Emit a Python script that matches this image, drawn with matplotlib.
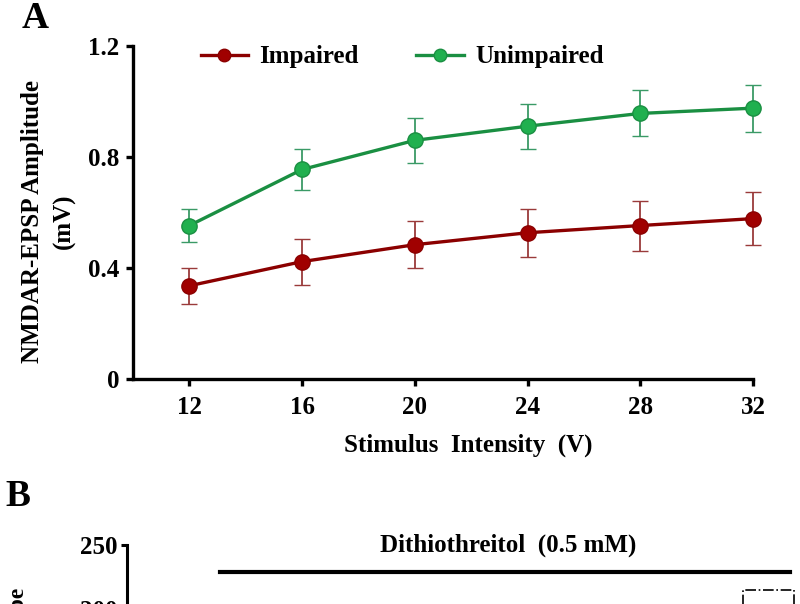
import matplotlib.pyplot as plt
from matplotlib.patches import Rectangle
import numpy as np

plt.rcParams['font.family'] = ['Liberation Serif', 'DejaVu Serif']
plt.rcParams['font.weight'] = 'bold'

# panel A data
intensity = [12, 16, 20, 24, 28, 32]
impaired = [0.336, 0.423, 0.484, 0.527, 0.553, 0.578]
impaired_err = [0.065, 0.083, 0.085, 0.087, 0.09, 0.095]
unimpaired = [0.553, 0.755, 0.860, 0.911, 0.957, 0.976]
unimpaired_err = [0.06, 0.075, 0.08, 0.081, 0.083, 0.085]
y_ticks = [0, 0.4, 0.8, 1.2]
y_ticklabels = ['0', '0.4', '0.8', '1.2']

# panel B (only the top edge is visible)
dtt_start, dtt_end = 12.5, 89.3
b_ticks = [0, 50, 100, 150, 200, 250]

red_line = '#8b0000'
red_face = '#a00000'
red_err = '#9a3a3a'
green_line = '#1a8f42'
green_face = '#20b04f'
green_err = '#3a9a66'

fig = plt.figure(figsize=(8, 6.04), dpi=100)

# ---------- panel A ----------
ax = fig.add_axes([133/800, 1-379/604, 620/800, 333/604])

ax.errorbar(intensity, impaired, yerr=impaired_err, color=red_line, lw=2.4,
            marker='o', ms=11, mfc=red_face, mec=red_line, mew=1,
            ecolor=red_err, elinewidth=1.3, capsize=6, capthick=1.3,
            clip_on=False, zorder=3)
ax.errorbar(intensity, unimpaired, yerr=unimpaired_err, color=green_line, lw=2.4,
            marker='o', ms=11, mfc=green_face, mec=green_line, mew=1,
            ecolor=green_err, elinewidth=1.3, capsize=6, capthick=1.3,
            clip_on=False, zorder=3)

ax.set_xlim(10, 32)
ax.set_ylim(0, 1.2)
ax.set_xticks(intensity)
ax.set_yticks(y_ticks)
ax.set_yticklabels(y_ticklabels)
for s in ['top', 'right']:
    ax.spines[s].set_visible(False)
for s in ['left', 'bottom']:
    ax.spines[s].set_linewidth(2.4)
ax.tick_params(width=2.4, length=5, labelsize=18)
ax.tick_params(axis='x', pad=7)
ax.tick_params(axis='y', pad=5)

ax.set_ylabel('NMDAR-EPSP Amplitude\n(mV)', fontsize=18, fontweight='bold',
              linespacing=1.45)
ax.yaxis.set_label_coords(-0.092, 0.474)
ax.set_xlabel('Stimulus  Intensity  (V)', fontsize=18, fontweight='bold')
ax.xaxis.set_label_coords(0.54, -0.165)

# legend without error bars
h1, = ax.plot([], [], color=red_line, lw=2.4, marker='o', ms=9,
              mfc=red_face, mec=red_line)
h2, = ax.plot([], [], color=green_line, lw=2.4, marker='o', ms=9,
              mfc=green_face, mec=green_line)
fig.legend([h1, h2], ['Impaired', 'Unimpaired'], ncol=2, frameon=False,
           loc='center left', bbox_to_anchor=(178/800, 1-57/604),
           prop={'size': 18, 'weight': 'bold'}, handlelength=1.9,
           handletextpad=0.45, columnspacing=2.3)

fig.text(22/800, 1-19/604, 'A', fontsize=27, fontweight='bold', va='center')

# ---------- panel B (cut off at the bottom) ----------
bx = fig.add_axes([127/800, 1-865/604, 668/800, 320/604])
bx.set_ylim(0, 250)
bx.set_xlim(0, 90)
bx.set_yticks(b_ticks)
bx.set_xticks([])
for s in ['top', 'right', 'bottom']:
    bx.spines[s].set_visible(False)
bx.spines['left'].set_linewidth(2.2)
bx.tick_params(axis='y', width=2.2, length=4, labelsize=18, pad=3)
bx.plot([dtt_start, dtt_end], [229, 229], color='black', lw=3, clip_on=False)
bx.text(51.3, 250, 'Dithiothreitol  (0.5 mM)',
        ha='center', va='center', fontsize=18, fontweight='bold')
bx.add_patch(Rectangle((83.0, 185), 6.8, 30, fill=False, ls='-.', lw=1.2,
                       ec='black', clip_on=False))
fig.text(19/800, 1-588/604, 'fEPSP Slope', rotation=90, fontsize=17,
         fontweight='bold', ha='center', va='top')

fig.text(5/800, 1-497/604, 'B', fontsize=27, fontweight='bold', va='center')

fig.savefig('out.png', dpi=100)
